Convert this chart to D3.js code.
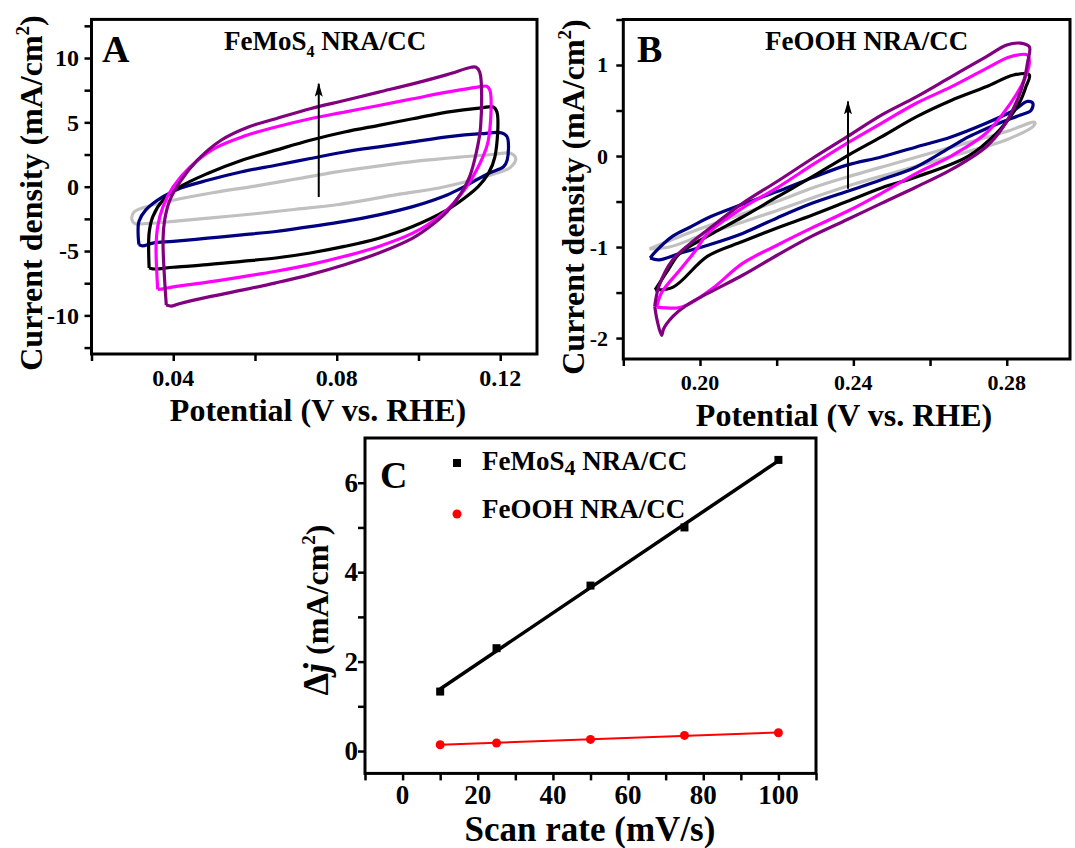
<!DOCTYPE html>
<html>
<head>
<meta charset="utf-8">
<script src="https://cdn.jsdelivr.net/npm/d3@7"></script>
<style>
  html, body { margin: 0; padding: 0; background: #fff; }
  svg { display: block; }
  text { font-family: "Liberation Serif", "Times New Roman", serif; font-weight: bold; fill: #000; }
</style>
</head>
<body>
<svg id="chart" width="1075" height="848"></svg>
<script>
// ---------------- DATA ----------------
// Panel A : FeMoS4 NRA/CC cyclic voltammograms [potential V, current mA/cm2]
const scanRates = [10, 25, 50, 75, 100];
const cvColors = ["#c0c0c0", "#000080", "#000000", "#ff00ff", "#800080"];

const cvA_10 = [[0.0298,-2.5],[0.0303,-2.0],[0.033,-1.6],[0.040,-1.05],[0.050,-0.45],[0.060,0.05],[0.070,0.6],[0.080,1.15],[0.090,1.6],[0.100,2.0],[0.110,2.3],[0.118,2.5],[0.1225,2.6],[0.1238,2.2],[0.1225,1.5],[0.119,1.05],[0.113,0.5],[0.105,-0.1],[0.095,-0.6],[0.080,-1.4],[0.070,-1.75],[0.060,-2.1],[0.050,-2.4],[0.040,-2.7],[0.034,-2.85],[0.0305,-2.85],[0.0298,-2.5]];
const cvA_25 = [[0.0316,-4.5],[0.0314,-3.6],[0.0316,-2.7],[0.0333,-1.8],[0.0375,-0.77],[0.0417,-0.13],[0.0484,0.5],[0.0568,1.16],[0.0651,1.67],[0.0735,2.19],[0.0819,2.7],[0.0903,3.1],[0.0986,3.48],[0.107,3.87],[0.1154,4.12],[0.1204,4.18],[0.1217,3.87],[0.1217,2.06],[0.1208,1.55],[0.1171,1.03],[0.1112,0],[0.107,-0.64],[0.0986,-1.55],[0.0903,-2.19],[0.0819,-2.7],[0.0735,-3.1],[0.0651,-3.48],[0.0568,-3.74],[0.0484,-4.0],[0.040,-4.25],[0.035,-4.38],[0.0325,-4.6],[0.0316,-4.5]];
const cvA_50 = [[0.0341,-6.31],[0.0341,-3.6],[0.035,-2.32],[0.0375,-1.03],[0.0417,0],[0.0484,1.03],[0.0568,2.06],[0.0651,2.84],[0.0735,3.61],[0.0819,4.25],[0.0903,4.77],[0.0986,5.28],[0.107,5.8],[0.1154,6.13],[0.1183,6.19],[0.1192,5.8],[0.1187,2.32],[0.1171,1.03],[0.1146,0],[0.1112,-0.9],[0.107,-1.8],[0.0986,-3.09],[0.0903,-4.0],[0.0819,-4.64],[0.0735,-5.15],[0.0651,-5.54],[0.0568,-5.8],[0.0484,-6.06],[0.040,-6.26],[0.035,-6.39],[0.0341,-6.31]];
const cvA_75 = [[0.0362,-7.99],[0.0358,-4.64],[0.0362,-3.09],[0.0375,-1.55],[0.040,0],[0.0442,1.55],[0.050,2.96],[0.0568,3.87],[0.0651,4.64],[0.0735,5.28],[0.0819,5.8],[0.0903,6.31],[0.0986,6.83],[0.107,7.35],[0.1154,7.78],[0.1167,7.81],[0.1175,7.47],[0.1171,3.61],[0.1154,2.06],[0.1133,0.77],[0.1112,-0.26],[0.107,-1.8],[0.1028,-2.84],[0.0986,-3.61],[0.0903,-4.64],[0.0819,-5.41],[0.0735,-6.06],[0.0651,-6.57],[0.0568,-7.01],[0.0484,-7.42],[0.040,-7.78],[0.0375,-7.94],[0.0362,-7.99]];
const cvA_100 = [[0.0383,-9.2],[0.0375,-4.12],[0.0379,-2.58],[0.0392,-1.03],[0.0417,0.39],[0.0459,2.06],[0.0517,3.61],[0.0584,4.64],[0.0651,5.28],[0.0735,6.06],[0.0819,6.7],[0.0903,7.35],[0.0986,7.99],[0.107,8.71],[0.1129,9.28],[0.1141,9.28],[0.115,8.89],[0.1152,4.64],[0.1141,2.58],[0.1125,0.77],[0.1104,-0.52],[0.107,-1.93],[0.1028,-3.09],[0.0986,-3.99],[0.0903,-5.15],[0.0819,-6.06],[0.0735,-6.83],[0.0651,-7.47],[0.0568,-8.04],[0.0484,-8.58],[0.0417,-9.07],[0.0396,-9.28],[0.0383,-9.2]];

// Panel B : FeOOH NRA/CC
const cvB_10 = [[0.1868,-1.02],[0.192,-0.93],[0.200,-0.80],[0.210,-0.65],[0.220,-0.50],[0.230,-0.34],[0.240,-0.21],[0.250,-0.09],[0.260,0.03],[0.270,0.15],[0.280,0.27],[0.2873,0.37],[0.287,0.33],[0.280,0.18],[0.270,0.05],[0.260,-0.07],[0.250,-0.19],[0.240,-0.31],[0.230,-0.45],[0.220,-0.60],[0.210,-0.74],[0.200,-0.88],[0.192,-1.00],[0.1868,-1.02]];
const cvB_25 = [[0.187,-1.12],[0.1884,-1.05],[0.1929,-0.88],[0.1975,-0.78],[0.202,-0.68],[0.2111,-0.53],[0.2201,-0.39],[0.2292,-0.24],[0.2383,-0.10],[0.2473,-0.01],[0.2564,0.10],[0.2655,0.21],[0.2746,0.36],[0.2818,0.50],[0.2854,0.60],[0.2868,0.58],[0.2863,0.50],[0.2836,0.45],[0.2791,0.38],[0.2746,0.30],[0.270,0.21],[0.2655,0.10],[0.2564,-0.12],[0.2473,-0.26],[0.2383,-0.39],[0.2292,-0.52],[0.2201,-0.68],[0.2111,-0.85],[0.202,-0.98],[0.1947,-1.07],[0.1893,-1.14],[0.187,-1.12]];
const cvB_50 = [[0.1883,-1.47],[0.1917,-1.25],[0.1947,-1.07],[0.202,-0.88],[0.2111,-0.67],[0.2201,-0.45],[0.2292,-0.23],[0.2383,0],[0.2473,0.21],[0.2564,0.43],[0.2655,0.61],[0.2746,0.76],[0.2818,0.89],[0.2859,0.89],[0.285,0.76],[0.2836,0.61],[0.2809,0.43],[0.2773,0.25],[0.270,0.0],[0.2564,-0.23],[0.2473,-0.35],[0.2383,-0.50],[0.2292,-0.65],[0.2201,-0.79],[0.2111,-0.94],[0.202,-1.10],[0.193,-1.44],[0.1883,-1.47]];
const cvB_75 = [[0.1887,-1.66],[0.190,-1.5],[0.1948,-1.25],[0.199,-1.03],[0.202,-0.85],[0.2111,-0.57],[0.2201,-0.35],[0.2292,-0.10],[0.2383,0.14],[0.2473,0.36],[0.2564,0.58],[0.2655,0.76],[0.2746,0.96],[0.2809,1.09],[0.2854,1.11],[0.2859,1.02],[0.2845,0.83],[0.2827,0.69],[0.2791,0.47],[0.2746,0.25],[0.2655,0.0],[0.2564,-0.19],[0.2473,-0.41],[0.2383,-0.61],[0.2292,-0.79],[0.2201,-0.98],[0.2111,-1.18],[0.2034,-1.45],[0.1965,-1.64],[0.194,-1.67],[0.1887,-1.66]];
const cvB_100 = [[0.1882,-1.65],[0.1893,-1.43],[0.1929,-1.14],[0.1975,-0.96],[0.202,-0.81],[0.2111,-0.52],[0.2201,-0.28],[0.2292,-0.03],[0.2383,0.21],[0.2473,0.45],[0.2564,0.65],[0.2655,0.87],[0.2746,1.09],[0.280,1.22],[0.2836,1.24],[0.2859,1.2],[0.2854,1.02],[0.2845,0.83],[0.2827,0.61],[0.2791,0.32],[0.2746,0.10],[0.2655,-0.15],[0.2564,-0.34],[0.2473,-0.52],[0.2383,-0.70],[0.2292,-0.88],[0.2201,-1.09],[0.2111,-1.31],[0.202,-1.51],[0.1965,-1.64],[0.193,-1.76],[0.1905,-1.90],[0.190,-1.97],[0.1888,-1.80],[0.1882,-1.65]];

// Panel C : delta j vs scan rate
const scanRateC = [10, 25, 50, 75, 100];
const djFeMoS4 = [1.33, 2.30, 3.70, 5.00, 6.51];
const djFeOOH = [0.14, 0.18, 0.26, 0.35, 0.41];

// tick values and labels
const aXTicks = [0.02, 0.04, 0.06, 0.08, 0.10, 0.12];
const aXLabels = ["", "0.04", "", "0.08", "", "0.12"];
const aYTicks = [-12.5, -10, -7.5, -5, -2.5, 0, 2.5, 5, 7.5, 10, 12.5];
const aYLabels = ["", "-10", "", "-5", "", "0", "", "5", "", "10", ""];
const bXTicks = [0.18, 0.20, 0.22, 0.24, 0.26, 0.28];
const bXLabels = ["", "0.20", "", "0.24", "", "0.28"];
const bYTicks = [-2, -1.5, -1, -0.5, 0, 0.5, 1, 1.5];
const bYLabels = ["-2", "", "-1", "", "0", "", "1", ""];
const cXTicks = [-10, 0, 10, 20, 30, 40, 50, 60, 70, 80, 90, 100, 110];
const cXLabels = ["", "0", "", "20", "", "40", "", "60", "", "80", "", "100", ""];
const cYTicks = [0, 1, 2, 3, 4, 5, 6];
const cYLabels = ["0", "", "2", "", "4", "", "6"];

// ---------------- DRAWING ----------------
const svg = d3.select("#chart");

const defs = svg.append("defs");
defs.append("marker").attr("id", "arrowHead")
  .attr("viewBox", "0 0 14 8").attr("refX", 13).attr("refY", 4)
  .attr("markerWidth", 7).attr("markerHeight", 4).attr("markerUnits", "strokeWidth")
  .attr("orient", "auto")
  .append("path").attr("d", "M0,0 L14,4 L0,8 L3,4 z").attr("fill", "#000");

function panel(cfg) {
  const g = svg.append("g");
  const x = d3.scaleLinear().domain(cfg.xDomain).range(cfg.xRange);
  const y = d3.scaleLinear().domain(cfg.yDomain).range(cfg.yRange);
  const left = cfg.xRange[0], right = cfg.xRange[1], top = cfg.yRange[1], bottom = cfg.yRange[0];

  const xAxis = d3.axisBottom(x).tickValues(cfg.xTicks).tickSize(7).tickSizeOuter(0).tickFormat("");
  g.append("g").attr("transform", `translate(0,${bottom})`).call(xAxis)
    .call(s => s.select(".domain").remove())
    .call(s => s.selectAll(".tick line").attr("stroke", "#000").attr("stroke-width", 2.5));
  const yAxis = d3.axisLeft(y).tickValues(cfg.yTicks).tickSize(7).tickSizeOuter(0).tickFormat("");
  g.append("g").attr("transform", `translate(${left},0)`).call(yAxis)
    .call(s => s.select(".domain").remove())
    .call(s => s.selectAll(".tick line").attr("stroke", "#000").attr("stroke-width", 2.5));

  g.selectAll(".xl").data(cfg.xTicks).join("text")
    .attr("x", d => x(d)).attr("y", cfg.xLabelBaseline)
    .attr("text-anchor", "middle").attr("font-size", cfg.tickFont)
    .text((d, i) => cfg.xLabels[i]);
  g.selectAll(".yl").data(cfg.yTicks).join("text")
    .attr("x", cfg.yLabelRight).attr("y", d => y(d) + cfg.tickFont * 0.34)
    .attr("text-anchor", "end").attr("font-size", cfg.tickFont)
    .text((d, i) => cfg.yLabels[i]);

  g.append("rect").attr("x", left).attr("y", top).attr("width", right - left).attr("height", bottom - top)
    .attr("fill", "none").attr("stroke", "#000").attr("stroke-width", 3);

  return { g, x, y };
}

function addText(g, x, y, size, parts, opts = {}) {
  const t = g.append("text").attr("x", x).attr("y", y).attr("font-size", size)
    .attr("text-anchor", opts.anchor || "start");
  if (opts.rotate) t.attr("transform", `rotate(-90,${x},${y})`);
  parts.forEach(p => {
    const ts = t.append("tspan").text(p.t);
    if (p.size) ts.attr("font-size", p.size);
    if (p.dy) ts.attr("dy", p.dy);
    if (p.italic) ts.attr("font-style", "italic");
  });
  return t;
}

const line = (x, y) => d3.line().x(d => x(d[0])).y(d => y(d[1])).curve(d3.curveCatmullRom.alpha(0.5));

// ---- Panel A
const A = panel({
  xDomain: [0.02, 0.129], xRange: [91.5, 537],
  yDomain: [-13, 13], yRange: [354, 19.4],
  xTicks: aXTicks, xLabels: aXLabels, yTicks: aYTicks, yLabels: aYLabels,
  tickFont: 24, xLabelBaseline: 386, yLabelRight: 79
});
[cvA_10, cvA_25, cvA_50, cvA_75, cvA_100].forEach((d, i) => {
  A.g.append("path").datum(d).attr("d", line(A.x, A.y)).attr("fill", "none")
    .attr("stroke", cvColors[i]).attr("stroke-width", 3.2).attr("stroke-linejoin", "round");
});
A.g.append("line").attr("x1", A.x(0.0756)).attr("x2", A.x(0.0756)).attr("y1", A.y(-0.8)).attr("y2", A.y(8.0))
  .attr("stroke", "#000").attr("stroke-width", 2).attr("marker-end", "url(#arrowHead)");
addText(A.g, 102, 62, 38, [{ t: "A" }]);
addText(A.g, 224, 50, 27, [{ t: "FeMoS" }, { t: "4", size: 16, dy: 7 }, { t: " NRA/CC", dy: -7 }]);
addText(A.g, 318, 421, 32, [{ t: "Potential (V vs. RHE)" }], { anchor: "middle" });
addText(A.g, 42, 193, 32, [{ t: "Current density (mA/cm" }, { t: "2", size: 19, dy: -13 }, { t: ")", dy: 13 }], { anchor: "middle", rotate: true });

// ---- Panel B
const B = panel({
  xDomain: [0.18, 0.2965], xRange: [623.3, 1070],
  yDomain: [-2.23, 1.5], yRange: [359, 19.5],
  xTicks: bXTicks, xLabels: bXLabels, yTicks: bYTicks, yLabels: bYLabels,
  tickFont: 22, xLabelBaseline: 390, yLabelRight: 608
});
[cvB_10, cvB_25, cvB_50, cvB_75, cvB_100].forEach((d, i) => {
  B.g.append("path").datum(d).attr("d", line(B.x, B.y)).attr("fill", "none")
    .attr("stroke", cvColors[i]).attr("stroke-width", 3.2).attr("stroke-linejoin", "round");
});
B.g.append("line").attr("x1", B.x(0.2386)).attr("x2", B.x(0.2386)).attr("y1", B.y(-0.36)).attr("y2", B.y(0.6))
  .attr("stroke", "#000").attr("stroke-width", 2).attr("marker-end", "url(#arrowHead)");
addText(B.g, 637, 62, 38, [{ t: "B" }]);
addText(B.g, 765, 50, 27, [{ t: "FeOOH NRA/CC" }]);
addText(B.g, 844, 426, 32, [{ t: "Potential (V vs. RHE)" }], { anchor: "middle" });
addText(B.g, 584, 197, 32, [{ t: "Current density (mA/cm" }, { t: "2", size: 19, dy: -13 }, { t: ")", dy: 13 }], { anchor: "middle", rotate: true });

// ---- Panel C
const C = panel({
  xDomain: [-10, 110], xRange: [365, 816],
  yDomain: [-0.5, 7], yRange: [773.4, 438],
  xTicks: cXTicks, xLabels: cXLabels, yTicks: cYTicks, yLabels: cYLabels,
  tickFont: 27, xLabelBaseline: 804, yLabelRight: 358
});
function fit(xs, ys) {
  const mx = d3.mean(xs), my = d3.mean(ys);
  let sxy = 0, sxx = 0;
  xs.forEach((v, i) => { sxy += (v - mx) * (ys[i] - my); sxx += (v - mx) * (v - mx); });
  const k = sxy / sxx, b = my - k * mx;
  return [[xs[0], k * xs[0] + b], [xs[xs.length - 1], k * xs[xs.length - 1] + b]];
}
const lineC = d3.line().x(d => C.x(d[0])).y(d => C.y(d[1]));
C.g.append("path").datum(fit(scanRateC, djFeMoS4)).attr("d", lineC).attr("stroke", "#000").attr("stroke-width", 3.5).attr("fill", "none");
C.g.append("path").datum(fit(scanRateC, djFeOOH)).attr("d", lineC).attr("stroke", "#ff0000").attr("stroke-width", 2).attr("fill", "none");
C.g.selectAll(".sq").data(scanRateC).join("rect")
  .attr("x", d => C.x(d) - 4).attr("y", (d, i) => C.y(djFeMoS4[i]) - 4).attr("width", 8).attr("height", 8).attr("fill", "#000");
C.g.selectAll(".ci").data(scanRateC).join("circle")
  .attr("cx", d => C.x(d)).attr("cy", (d, i) => C.y(djFeOOH[i])).attr("r", 4.5).attr("fill", "#ff0000");
// legend
C.g.append("rect").attr("x", 453).attr("y", 459).attr("width", 8).attr("height", 8).attr("fill", "#000");
C.g.append("circle").attr("cx", 457).attr("cy", 514).attr("r", 4.5).attr("fill", "#ff0000");
addText(C.g, 482, 470, 27, [{ t: "FeMoS" }, { t: "4", size: 22, dy: 5 }, { t: " NRA/CC", dy: -5 }]);
addText(C.g, 482, 518, 27, [{ t: "FeOOH NRA/CC" }]);
addText(C.g, 380, 488, 38, [{ t: "C" }]);
addText(C.g, 590, 841, 35, [{ t: "Scan rate (mV/s)" }], { anchor: "middle" });
addText(C.g, 328, 610, 32, [{ t: "Δ", size: 36 }, { t: "j", italic: true, size: 36 }, { t: " (mA/cm" }, { t: "2", size: 19, dy: -13 }, { t: ")", dy: 13 }], { anchor: "middle", rotate: true });
</script>
</body>
</html>
